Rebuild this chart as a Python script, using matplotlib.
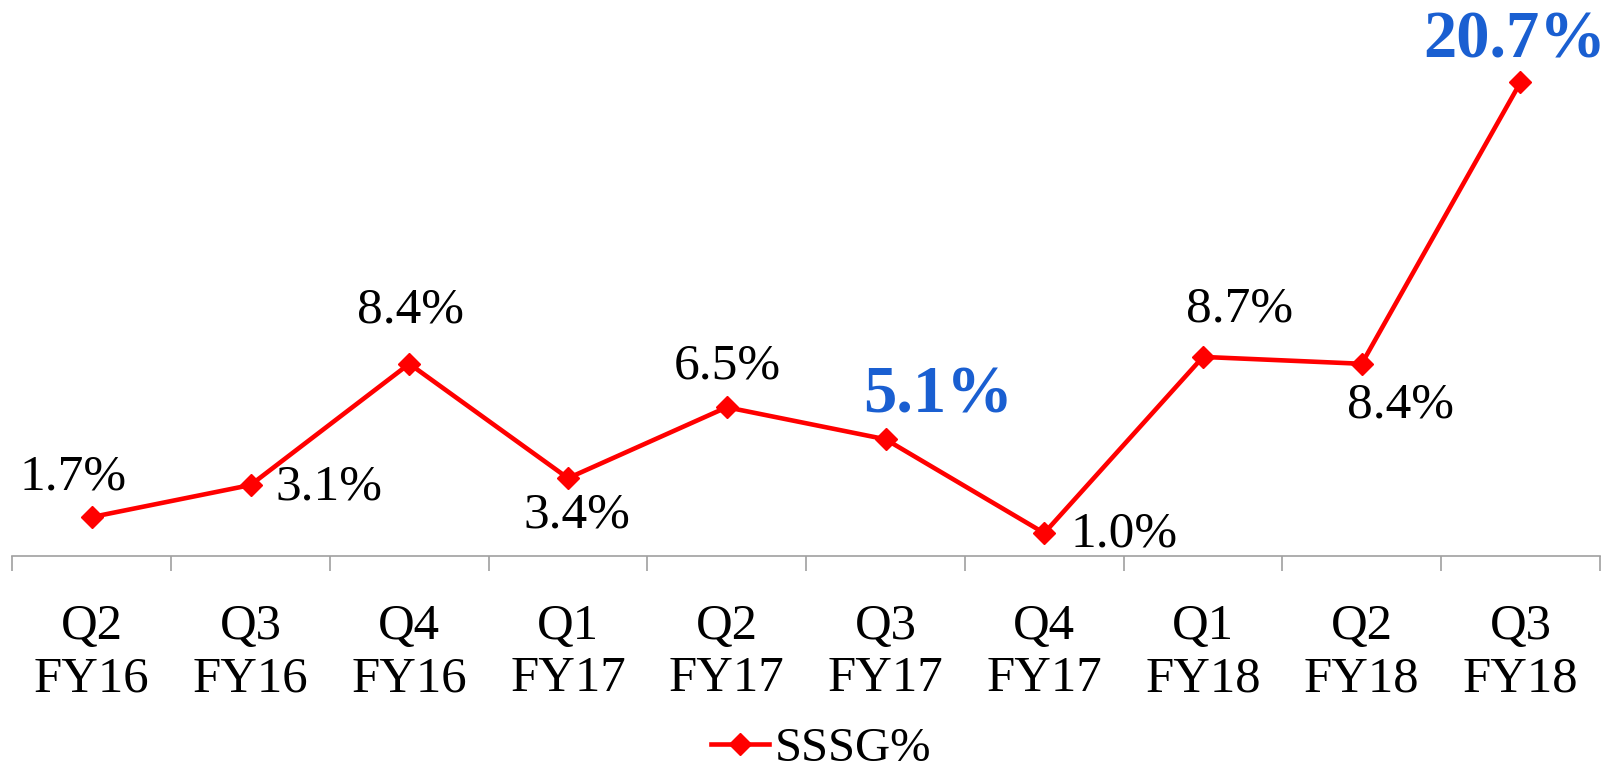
import matplotlib.pyplot as plt

# SSSG% by quarter
quarters = ["Q2\nFY16", "Q3\nFY16", "Q4\nFY16", "Q1\nFY17", "Q2\nFY17",
            "Q3\nFY17", "Q4\nFY17", "Q1\nFY18", "Q2\nFY18", "Q3\nFY18"]
sssg = [1.7, 3.1, 8.4, 3.4, 6.5, 5.1, 1.0, 8.7, 8.4, 20.7]
highlight = [5, 9]  # quarters shown in bold blue

# label offsets (pixels) from each point
offsets = [(-19, 40), (78, -2), (1, 54), (9, -37), (1, 41),
           (53, 43), (80, -1), (37, 48), (39, -41), (-6, 41)]

plt.rcParams['font.family'] = ['Liberation Serif', 'DejaVu Serif']

fig = plt.figure(figsize=(16.16, 7.74), dpi=100)
ax = fig.add_axes([0.0077, 0.2817, 0.9823, 0.7183])

x = list(range(len(sssg)))
line, = ax.plot(x, sssg, color='#ff0000', linewidth=3.3, marker='D',
                markersize=11, label='SSSG%', clip_on=False)

for i, v in enumerate(sssg):
    if i in highlight:
        ax.annotate(f"{v:.1f}%", (i, v), xytext=offsets[i], textcoords='offset pixels',
                    ha='center', va='center', fontsize=48, fontweight='bold',
                    color='#1a5fd1')
    else:
        ax.annotate(f"{v:.1f}%", (i, v), xytext=offsets[i], textcoords='offset pixels',
                    ha='center', va='center', fontsize=37, color='black')

ax.set_xlim(-0.5, 9.5)
ax.set_ylim(0, 24.3)
for s in ['top', 'right', 'left']:
    ax.spines[s].set_visible(False)
ax.spines['bottom'].set_color('#a0a0a0')
ax.spines['bottom'].set_linewidth(1.2)
ax.set_yticks([])

ax.set_xticks(x)
ax.set_xticklabels(quarters, fontsize=36.5, linespacing=1.17)
ax.set_xticks([i - 0.5 for i in range(len(sssg) + 1)], minor=True)
ax.tick_params(axis='x', which='major', length=0, pad=34)
ax.tick_params(axis='x', which='minor', length=11, width=1.2, color='#a0a0a0')

fig.legend(handles=[line], loc='center', bbox_to_anchor=(0.508, 0.032),
           frameon=False, fontsize=35, handlelength=1.2, handletextpad=0.1,
           borderpad=0)

fig.savefig('out.png', dpi=100)
